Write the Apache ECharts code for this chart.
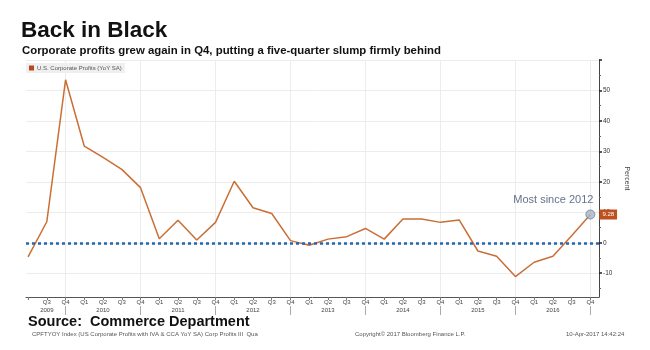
<!DOCTYPE html>
<html>
<head>
<meta charset="utf-8">
<script src="https://cdn.jsdelivr.net/npm/echarts@6/dist/echarts.min.js"></script>
<style>
  html, body { margin: 0; padding: 0; background: #fff; }
  #chart { width: 650px; height: 350px; }
</style>
</head>
<body>
<div id="chart"></div>
<script>
  // quarterly data, Q2 2009 .. Q4 2016
  const quarters = [
    '2009 Q2', '2009 Q3', '2009 Q4',
    '2010 Q1', '2010 Q2', '2010 Q3', '2010 Q4',
    '2011 Q1', '2011 Q2', '2011 Q3', '2011 Q4',
    '2012 Q1', '2012 Q2', '2012 Q3', '2012 Q4',
    '2013 Q1', '2013 Q2', '2013 Q3', '2013 Q4',
    '2014 Q1', '2014 Q2', '2014 Q3', '2014 Q4',
    '2015 Q1', '2015 Q2', '2015 Q3', '2015 Q4',
    '2016 Q1', '2016 Q2', '2016 Q3', '2016 Q4'
  ]
  const profits = [
    -4.6, 6.9, 53.5,
    31.7, 28.0, 24.1, 18.1,
    1.3, 7.4, 0.9, 6.7,
    20.2, 11.5, 9.6, 0.7,
    -0.8, 1.2, 2.0, 4.7,
    1.2, 7.8, 7.8, 6.7,
    7.5, -2.7, -4.4, -11.1,
    -6.4, -4.4, 2.3, 9.28
  ]
  const quarterLabelIdx = [1, 2, 3, 4, 5, 6, 7, 8, 9, 10, 11, 12, 13, 14, 15, 16, 17, 18, 19, 20, 21, 22, 23, 24, 25, 26, 27, 28, 29, 30]
  const yearLabelIdx = [1, 4, 8, 12, 16, 20, 24, 28]
  const yearEndIdx = [2, 6, 10, 14, 18, 22, 26, 30]
  const yTicks = [-10, 0, 10, 20, 30, 40, 50]
  const yMinorTicks = [-15, -5, 5, 15, 25, 35, 45, 55]
  const yGridLines = [-10, 0, 10, 20, 30, 40, 50, 60]
  const seriesName = 'U.S. Corporate Profits (YoY SA)'
  const noteText = 'Most since 2012'

  const xMin = -0.11
  const xMax = 30.46
  const yMin = -17.8
  const yMax = 60
  const allIdx = quarters.map((q, i) => i)
  const last = profits.length - 1

  const chart = echarts.init(document.getElementById('chart'))
  chart.setOption({
    animation: false,
    textStyle: { fontFamily: 'Liberation Sans' },
    title: [
      {
        text: 'Back in Black', left: 16, top: 14,
        textStyle: { fontSize: 22.5, fontWeight: 'bold', color: '#111' }
      },
      {
        text: 'Corporate profits grew again in Q4, putting a five-quarter slump firmly behind', left: 17, top: 40,
        textStyle: { fontSize: 11.4, fontWeight: 'bold', color: '#111' }
      },
      {
        text: 'Source:  Commerce Department', left: 23, top: 309,
        textStyle: { fontSize: 14.5, fontWeight: 'bold', color: '#111' }
      },
      {
        text: 'CPFTYOY Index (US Corporate Profits with IVA & CCA YoY SA) Corp Profits III  Qua', left: 27, top: 326,
        textStyle: { fontSize: 6, fontWeight: 'normal', color: '#555' }
      },
      {
        text: 'Copyright\u00a9 2017 Bloomberg Finance L.P.', left: 350, top: 326,
        textStyle: { fontSize: 6, fontWeight: 'normal', color: '#555' }
      },
      {
        text: '10-Apr-2017 14:42:24', left: 561, top: 326,
        textStyle: { fontSize: 6, fontWeight: 'normal', color: '#555' }
      }
    ],
    legend: {
      data: [seriesName],
      left: 26, top: 63,
      padding: [2, 3],
      itemWidth: 5, itemHeight: 5, itemGap: 4,
      icon: 'rect',
      backgroundColor: '#efefef',
      textStyle: { fontSize: 6, color: '#555', padding: [0, 0, 0, -2] }
    },
    grid: { left: 26, right: 51, top: 60, bottom: 53 },
    xAxis: [
      {
        type: 'value', min: xMin, max: xMax, position: 'bottom',
        axisLine: { show: true, onZero: false, lineStyle: { color: '#555' } },
        axisTick: { show: true, customValues: allIdx, length: 3, lineStyle: { color: '#777' } },
        axisLabel: {
          customValues: quarterLabelIdx, fontSize: 6, color: '#444', margin: 2,
          formatter: v => quarters[v].slice(5)
        },
        splitLine: { show: false }
      },
      {
        type: 'value', min: xMin, max: xMax, position: 'bottom', offset: 9,
        axisLine: { show: false, onZero: false },
        axisTick: { show: true, customValues: yearEndIdx, length: 9, lineStyle: { color: '#aaa' } },
        axisLabel: {
          customValues: yearLabelIdx, fontSize: 6, color: '#444', margin: 1,
          formatter: v => quarters[v].slice(0, 4)
        },
        splitLine: { show: true, lineStyle: { color: '#ececec' } }
      }
    ],
    yAxis: [
      {
        type: 'value', min: yMin, max: yMax, position: 'right',
        axisLine: { show: true, onZero: false, lineStyle: { color: '#444' } },
        axisTick: { show: true, customValues: yMinorTicks, length: 2, lineStyle: { color: '#666' } },
        axisLabel: { customValues: yTicks, fontSize: 6.5, color: '#333', margin: 4 },
        splitLine: { show: false },
        name: 'Percent', nameLocation: 'middle', nameRotate: -90, nameGap: 20,
        nameTextStyle: { fontSize: 7, color: '#444' }
      },
      {
        type: 'value', min: yMin, max: yMax, position: 'right',
        axisLine: { show: false, onZero: false },
        axisTick: { show: true, customValues: yGridLines, length: 3, lineStyle: { color: '#222', width: 1.5 } },
        axisLabel: { show: false },
        splitLine: { show: true, lineStyle: { color: '#ececec' } }
      }
    ],
    series: [
      {
        name: seriesName,
        type: 'line',
        data: profits.map((v, i) => [i, v]),
        showSymbol: false,
        lineStyle: { color: '#c96f35', width: 1.5 },
        itemStyle: { color: '#b9471c' },
        endLabel: {
          show: true,
          formatter: p => p.value[1].toFixed(2),
          backgroundColor: '#bf4f1d', color: '#fff',
          fontSize: 6, padding: [2, 3], distance: 9
        },
        markLine: {
          silent: true, symbol: 'none',
          label: { show: false },
          lineStyle: { color: '#2366b5', type: [3, 3], width: 2.5 },
          data: [{ yAxis: 0 }]
        },
        z: 3
      },
      {
        type: 'scatter',
        data: [[last, profits[last]]],
        symbolSize: 9,
        itemStyle: { color: '#a7b5c8', borderColor: '#6f8099', borderWidth: 1 },
        label: {
          show: true, formatter: noteText, position: 'top', align: 'right',
          offset: [3, 1], fontSize: 11, color: '#3d4f6e'
        },
        z: 5
      }
    ]
  })
</script>
</body>
</html>
